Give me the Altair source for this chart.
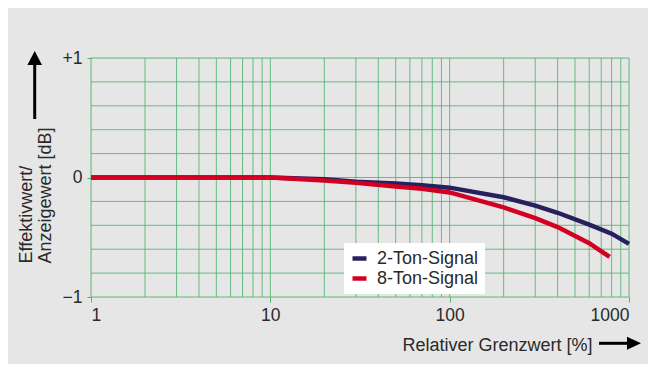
import altair as alt
import pandas as pd

# ---- data ----
x_2ton = [1, 10, 20, 30, 50, 70, 100, 200, 300, 400, 600, 800, 1000]
y_2ton = [0, 0, -0.015, -0.035, -0.05, -0.065, -0.085, -0.165, -0.235, -0.295, -0.395, -0.47, -0.555]
x_8ton = [1, 10, 20, 30, 50, 70, 100, 200, 300, 400, 600, 780]
y_8ton = [0, 0, -0.025, -0.045, -0.075, -0.095, -0.125, -0.25, -0.34, -0.415, -0.55, -0.665]
series = ["2-Ton-Signal", "8-Ton-Signal"]
colors = ["#27205f", "#d40023"]

x_grid = [1, 2, 3, 4, 5, 6, 7, 8, 9,
          10, 20, 30, 40, 50, 60, 70, 80, 90,
          100, 200, 300, 400, 500, 600, 700, 800, 900, 1000]
y_grid = [-1, -0.8, -0.6, -0.4, -0.2, 0, 0.2, 0.4, 0.6, 0.8, 1]
x_ticks = [1, 10, 100, 1000]
y_ticks = [-1, 0, 1]

x_title = "Relativer Grenzwert [%]"
y_title = ["Effektivwert/", "Anzeigewert [dB]"]

df = pd.DataFrame(
    {"series": [series[0]] * len(x_2ton) + [series[1]] * len(x_8ton),
     "x": x_2ton + x_8ton,
     "y": y_2ton + y_8ton}
)
gx = pd.DataFrame({"g": x_grid})
gy = pd.DataFrame({"h": y_grid})
one = pd.DataFrame({"a": [0]})

FONT = "Liberation Sans"
TXT = "#2a2a2a"
GREEN = "#4db56e"

xscale = alt.Scale(type="log", domain=[1, 1000])
yscale = alt.Scale(domain=[-1, 1])

xaxis = alt.Axis(values=x_ticks, format="d", grid=False, domain=False,
                 tickColor=GREEN, tickSize=5, tickWidth=1,
                 labelFontSize=17.5, labelColor=TXT, labelFont=FONT, labelPadding=4,
                 title=x_title, titleFont=FONT, titleFontSize=18, titleFontWeight="normal",
                 titleColor=TXT, titleAlign="right", titleAnchor="end",
                 titleX=501, titleY=53, titleBaseline="alphabetic")
yaxis = alt.Axis(values=y_ticks, grid=False, domain=False,
                 labelExpr="datum.value > 0 ? '+1' : (datum.value < 0 ? '\u22121' : '0')",
                 tickColor=GREEN, tickSize=4, tickWidth=1,
                 labelFontSize=17.5, labelColor=TXT, labelFont=FONT, labelPadding=5,
                 title=y_title, titleFont=FONT, titleFontSize=18, titleFontWeight="normal",
                 titleColor=TXT, titleAngle=270, titleAlign="left", titleBaseline="alphabetic",
                 titleX=-60, titleY=205, titleLineHeight=19)

vgrid = alt.Chart(gx).mark_rule(color=GREEN, strokeWidth=1, opacity=0.85).encode(
    x=alt.X("g:Q", scale=xscale, axis=xaxis)
)
hgrid = alt.Chart(gy).mark_rule(color=GREEN, strokeWidth=1, opacity=0.85).encode(
    y=alt.Y("h:Q", scale=yscale, axis=yaxis)
)

lines = alt.Chart(df).mark_line(strokeWidth=4.5, strokeCap="butt").encode(
    x=alt.X("x:Q", scale=xscale, axis=xaxis),
    y=alt.Y("y:Q", scale=yscale, axis=yaxis),
    color=alt.Color("series:N",
                    scale=alt.Scale(domain=series, range=colors),
                    legend=alt.Legend(title=None, orient="none", legendX=253, legendY=185,
                                      fillColor="white", padding=6,
                                      symbolType="stroke", symbolStrokeWidth=4.5,
                                      symbolSize=196, labelFontSize=18, labelFont=FONT,
                                      labelColor=TXT, labelOffset=8, rowPadding=1)),
)

# arrows (decorations outside the plot area)
y_shaft = alt.Chart(one).mark_rule(color="black", strokeWidth=3).encode(
    x=alt.value(-56.3), y=alt.value(7), y2=alt.value(61)
)
y_head = alt.Chart(one).mark_point(shape="M0,-0.95L1,0.95L-1,0.95Z", filled=True,
                                   color="black", opacity=1, size=213).encode(
    x=alt.value(-56.3), y=alt.value(0)
)
x_shaft = alt.Chart(one).mark_rule(color="black", strokeWidth=3).encode(
    x=alt.value(508), x2=alt.value(537), y=alt.value(285.3)
)
x_head = alt.Chart(one).mark_point(shape="M1,0L-1,-0.93L-1,0.93Z", filled=True,
                                   color="black", opacity=1, size=196).encode(
    x=alt.value(543), y=alt.value(285.3)
)

chart = alt.layer(vgrid, hgrid, lines, y_shaft, y_head, x_shaft, x_head).properties(
    width=538, height=239,
    padding={"left": 83, "top": 50, "right": 19, "bottom": 67},
    autosize=alt.AutoSizeParams(type="none"),
    background="#e6e6e6",
).configure_view(fill="white", stroke="transparent").configure(font=FONT)

chart.save("out.html", embed_options={"renderer": "svg", "actions": False})
